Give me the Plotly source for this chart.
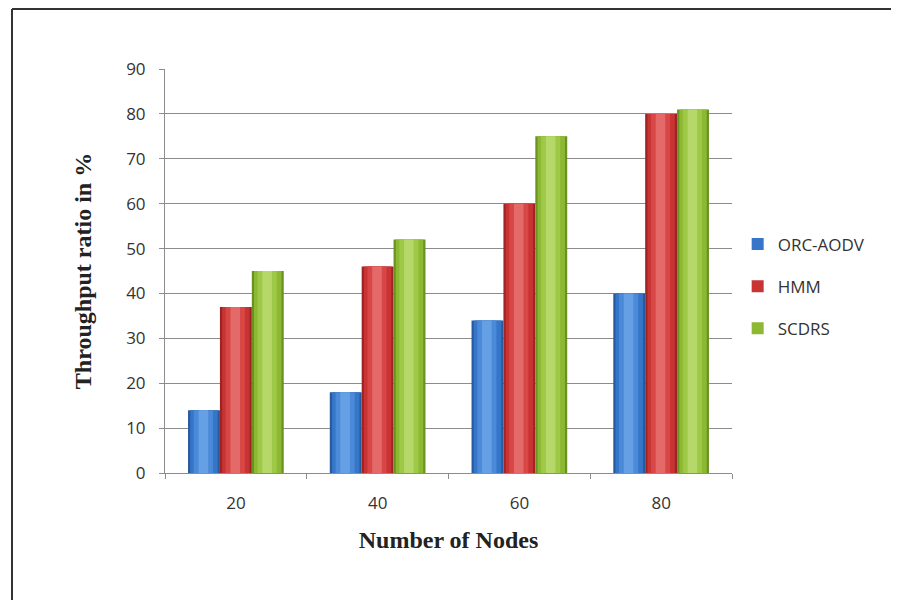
import plotly.graph_objects as go

categories = ["20", "40", "60", "80"]
orc_aodv = [14, 18, 34, 40]
hmm = [37, 46, 60, 80]
scdrs = [45, 52, 75, 81]
series_names = ["ORC-AODV", "HMM", "SCDRS"]
y_ticks = [0, 10, 20, 30, 40, 50, 60, 70, 80, 90]

series_values = [orc_aodv, hmm, scdrs]
# shading layers: (fraction of bar width, colour) from edge to centre
palettes = [
    ["#2a5a9e", "#3676c8", "#4a8ad8", "#66a0e4"],
    ["#9e2424", "#c83434", "#d84646", "#e46a6a"],
    ["#6a9220", "#8cb834", "#9ec946", "#b6d86a"],
]
fractions = [1.0, 0.86, 0.6, 0.3]

bar_w = 0.225
base_offsets = [-0.3375, -0.1125, 0.1125]

fig = go.Figure()
for i, (name, vals) in enumerate(zip(series_names, series_values)):
    for j, (f, col) in enumerate(zip(fractions, palettes[i])):
        w = bar_w * f
        off = base_offsets[i] + (bar_w - w) / 2 - (0.02 * bar_w if j >= 2 else 0)
        fig.add_trace(go.Bar(
            x=categories, y=vals, name=name,
            width=w, offset=off,
            marker=dict(color=col, line=dict(width=0)),
            showlegend=(j == 1),
            legendgroup=name,
            hoverinfo="skip" if j != 1 else None,
        ))

# page body has an 8px default margin; compensate so plot area sits at x 165-732, y 69-473
fig.update_layout(
    width=899, height=600,
    barmode="overlay",
    paper_bgcolor="white", plot_bgcolor="white",
    margin=dict(l=157, r=175, t=61, b=135),
    font=dict(family="Open Sans, Liberation Sans, sans-serif", size=17, color="#333333"),
    showlegend=True,
    legend=dict(
        x=1.01, y=0.61, xanchor="left", yanchor="top",
        font=dict(size=17, color="#333333"),
        tracegroupgap=17, itemwidth=30,
        bgcolor="rgba(0,0,0,0)",
    ),
    xaxis=dict(
        type="category",
        showline=True, linecolor="#8c8c8c", linewidth=1,
        ticks="outside", ticklen=5, tickcolor="#8c8c8c",
        tickson="boundaries", ticklabelstandoff=15,
        showgrid=False,
        title=dict(text="<b>Number of Nodes</b>",
                   font=dict(family="Liberation Serif, Times New Roman, serif", size=24, color="#222222"),
                   standoff=17),
    ),
    yaxis=dict(
        range=[0, 90], tickvals=y_ticks,
        showline=True, linecolor="#8c8c8c", linewidth=1,
        ticks="outside", ticklen=5, tickcolor="#8c8c8c",
        ticklabelstandoff=10,
        showgrid=True, gridcolor="#8c8c8c", gridwidth=1,
        zeroline=False,
        title=dict(text="<b>Throughput ratio in %</b>",
                   font=dict(family="Liberation Serif, Times New Roman, serif", size=24, color="#222222"),
                   standoff=27),
    ),
)

# outer frame (left and top edges visible in the reference)
fx0 = (12 - 165) / 567
fy_top = (473 - 9) / 404
fig.add_shape(type="line", xref="paper", yref="paper",
              x0=fx0, x1=fx0, y0=(473 - 640) / 404, y1=fy_top,
              line=dict(color="#333333", width=2))
fig.add_shape(type="line", xref="paper", yref="paper",
              x0=fx0, x1=(940 - 165) / 567, y0=fy_top, y1=fy_top,
              line=dict(color="#333333", width=2))

fig.write_html("out.html")
